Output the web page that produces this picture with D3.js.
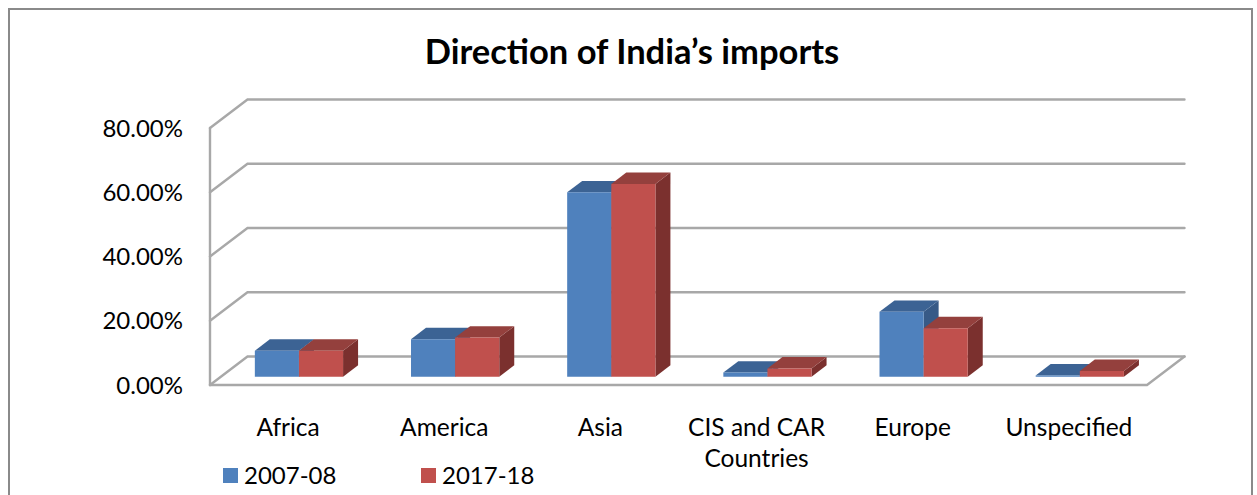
<!DOCTYPE html>
<html>
<head>
<meta charset="utf-8">
<script src="https://cdn.jsdelivr.net/npm/d3@7"></script>
<style>
  html, body { margin: 0; padding: 0; background: #fff; }
  svg { display: block; }
  text { font-family: Lato, "Open Sans", sans-serif; fill: #000; }
</style>
</head>
<body>
<svg id="chart" width="1257" height="495"></svg>
<script>
// Share of India's imports by region
const categories = ["Africa", "America", "Asia", "CIS and CAR Countries", "Europe", "Unspecified"];
const seriesNames = ["2007-08", "2017-18"];
const imports2007 = [0.081, 0.117, 0.574, 0.013, 0.202, 0.004];
const imports2018 = [0.081, 0.122, 0.600, 0.026, 0.151, 0.018];
const yTicks = [0, 0.2, 0.4, 0.6, 0.8];
const titleText = "Direction of India\u2019s imports";

const colors = {
  "2007-08": { front: "#4f81bd", top: "#3c6394", side: "#375a87" },
  "2017-18": { front: "#c0504d", top: "#94403d", side: "#7b302e" }
};

const svg = d3.select("#chart");

// front plane of the plot box and the depth offset to the back wall
const plot = { left: 210, right: 1147, top: 128, bottom: 385 };
const DX = 37.5, DY = -28.5;
// bars sit between these fractions of the depth
const barD0 = 0.29, barD1 = 0.69;

const x = d3.scaleBand().domain(categories).range([plot.left, plot.right]);
const bw = x.bandwidth();
const xs = d3.scaleBand().domain(seriesNames).range([bw * 0.2175, bw * 0.7825]);
const y = d3.scaleLinear().domain([0, 0.8]).range([plot.bottom, plot.top]);

const proj = (px, py, d) => [px + DX * d, py + DY * d];

// outer chart frame
svg.append("rect")
  .attr("x", 9).attr("y", 9).attr("width", 1243).attr("height", 520)
  .attr("fill", "none").attr("stroke", "#8a8a8a").attr("stroke-width", 2);

// title
svg.append("text")
  .attr("x", 632).attr("y", 64)
  .attr("text-anchor", "middle")
  .style("font-size", "34.5px").style("font-weight", "bold")
  .text(titleText);

const grid = svg.append("g")
  .attr("fill", "none").attr("stroke", "#a8a8a8").attr("stroke-width", 2.4)
  .attr("stroke-linecap", "round");
const line = d3.line();

// back-wall gridlines and their diagonals on the side wall
yTicks.forEach(t => {
  const f = [plot.left, y(t)];
  const b = proj(plot.left, y(t), 1);
  const br = proj(plot.right, y(t), 1);
  grid.append("path").attr("d", line([f, b, br]));
});
// side wall front edge and the floor
grid.append("path").attr("d", line([[plot.left, y(0.8)], [plot.left, y(0)]]));
grid.append("path").attr("d", line([[plot.left, y(0)], [plot.right, y(0)], proj(plot.right, y(0), 1)]));

// y axis labels
const fmt = d3.format(".2%");
svg.append("g").selectAll("text").data(yTicks).join("text")
  .attr("x", 183).attr("y", d => y(d) + 8.5)
  .attr("text-anchor", "end")
  .style("font-size", "24px")
  .text(d => fmt(d));

// 3D bars
const rows = categories.map((c, i) => ({
  cat: c,
  values: [
    { s: seriesNames[0], v: imports2007[i] },
    { s: seriesNames[1], v: imports2018[i] }
  ]
}));

const bars = svg.append("g");
rows.forEach(r => {
  r.values.forEach(d => {
    const x0 = x(r.cat) + xs(d.s);
    const x1 = x0 + xs.bandwidth();
    const yb = y(0), yt = y(d.v);
    const P = proj;
    const c = colors[d.s];
    const g = bars.append("g");
    // right side face
    g.append("path").attr("fill", c.side)
      .attr("d", line([P(x1, yt, barD0), P(x1, yt, barD1), P(x1, yb, barD1), P(x1, yb, barD0)]) + "Z");
    // top face
    g.append("path").attr("fill", c.top)
      .attr("d", line([P(x0, yt, barD0), P(x0, yt, barD1), P(x1, yt, barD1), P(x1, yt, barD0)]) + "Z");
    // front face
    g.append("path").attr("fill", c.front)
      .attr("d", line([P(x0, yt, barD0), P(x1, yt, barD0), P(x1, yb, barD0), P(x0, yb, barD0)]) + "Z");
  });
});

// category labels, wrapped to the band width
const catG = svg.append("g");
categories.forEach(c => {
  const cx = x(c) + bw / 2;
  const t = catG.append("text")
    .attr("x", cx).attr("y", 436)
    .attr("text-anchor", "middle")
    .style("font-size", "24.5px");
  let lineWords = [];
  let tspan = t.append("tspan").attr("x", cx).attr("dy", 0);
  c.split(" ").forEach(w => {
    lineWords.push(w);
    tspan.text(lineWords.join(" "));
    if (tspan.node().getComputedTextLength() > bw * 0.95 && lineWords.length > 1) {
      lineWords.pop();
      tspan.text(lineWords.join(" "));
      lineWords = [w];
      tspan = t.append("tspan").attr("x", cx).attr("dy", 31).text(w);
    }
  });
});

// legend
const legend = svg.append("g");
const legendX = [223, 421];
seriesNames.forEach((s, i) => {
  legend.append("rect")
    .attr("x", legendX[i]).attr("y", 468).attr("width", 15).attr("height", 15)
    .attr("fill", colors[s].front);
  legend.append("text")
    .attr("x", legendX[i] + 21).attr("y", 484)
    .style("font-size", "24px")
    .text(s);
});
</script>
</body>
</html>
